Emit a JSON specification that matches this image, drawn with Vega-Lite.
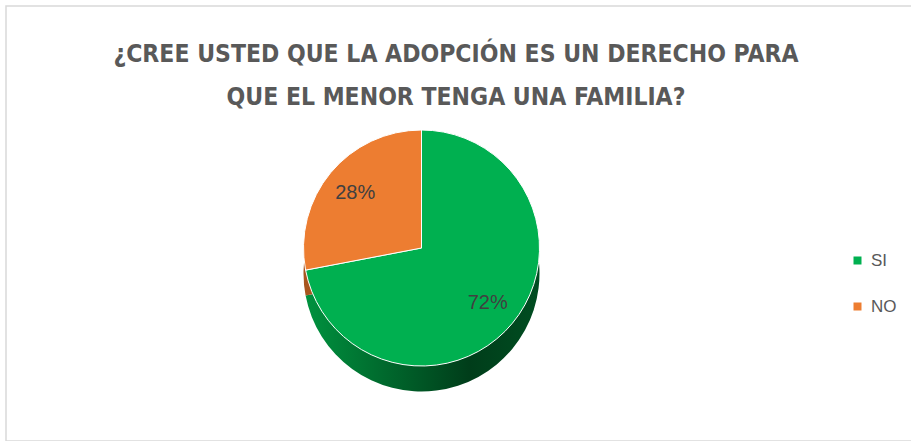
{
  "$schema": "https://vega.github.io/schema/vega-lite/v6.json",
  "width": 906,
  "height": 435,
  "padding": {"left": 6, "top": 6, "right": 0, "bottom": 0},
  "autosize": {"type": "none"},
  "background": "white",
  "view": {"stroke": "#d9d9d9", "strokeWidth": 1.5},
  "config": {"view": {"stroke": "#d9d9d9", "strokeWidth": 1.5}},
  "title": {
    "text": ["¿CREE USTED QUE LA ADOPCIÓN ES UN DERECHO PARA", "QUE EL MENOR TENGA UNA FAMILIA?"],
    "orient": "top",
    "anchor": "middle",
    "frame": "group",
    "offset": -104,
    "font": "DejaVu Sans Condensed",
    "fontSize": 24.5,
    "fontWeight": "bold",
    "color": "#595959",
    "lineHeight": 43,
    "dx": -3
  },
  "data": {
    "values": [
      {"respuesta": "SI", "porcentaje": 72, "orden": 1, "etiqueta": "72%"},
      {"respuesta": "NO", "porcentaje": 28, "orden": 2, "etiqueta": "28%"}
    ]
  },
  "layer": [
    {
      "mark": {"type": "arc", "outerRadius": 118, "xOffset": -37.5, "yOffset": 50, "strokeWidth": 0},
      "encoding": {
        "theta": {"field": "porcentaje", "type": "quantitative", "stack": true},
        "order": {"field": "orden", "type": "quantitative"},
        "detail": {"field": "respuesta"},
        "fill": {
          "condition": {
            "test": "datum.respuesta === 'SI'",
            "value": {"gradient": "linear", "x1": 0, "y1": 0, "x2": 1, "y2": 0,
              "stops": [{"offset": 0, "color": "#00923f"}, {"offset": 0.7, "color": "#003d1a"}, {"offset": 1, "color": "#004d21"}]}
          },
          "value": "#a8561f"
        }
      }
    },
    {
      "mark": {"type": "arc", "outerRadius": 118, "xOffset": -37.5, "yOffset": 24.5, "stroke": "white", "strokeWidth": 1},
      "encoding": {
        "theta": {"field": "porcentaje", "type": "quantitative", "stack": true},
        "order": {"field": "orden", "type": "quantitative"},
        "color": {
          "field": "respuesta",
          "type": "nominal",
          "scale": {"domain": ["SI", "NO"], "range": ["#00b050", "#ed7d31"]},
          "legend": {
            "title": null,
            "orient": "none",
            "legendX": 843,
            "legendY": 246,
            "symbolType": "square",
            "symbolSize": 64,
            "symbolStrokeWidth": 0,
            "labelFontSize": 17,
            "labelFont": "Liberation Sans",
            "labelColor": "#595959",
            "rowPadding": 28,
            "labelOffset": 5
          }
        }
      }
    },
    {
      "mark": {"type": "text", "radius": 86, "xOffset": -37.5, "yOffset": 24.5, "fontSize": 20, "font": "Liberation Sans", "fill": "#404040"},
      "encoding": {
        "theta": {"field": "porcentaje", "type": "quantitative", "stack": true},
        "order": {"field": "orden", "type": "quantitative"},
        "detail": {"field": "respuesta"},
        "text": {"field": "etiqueta"}
      }
    }
  ]
}
